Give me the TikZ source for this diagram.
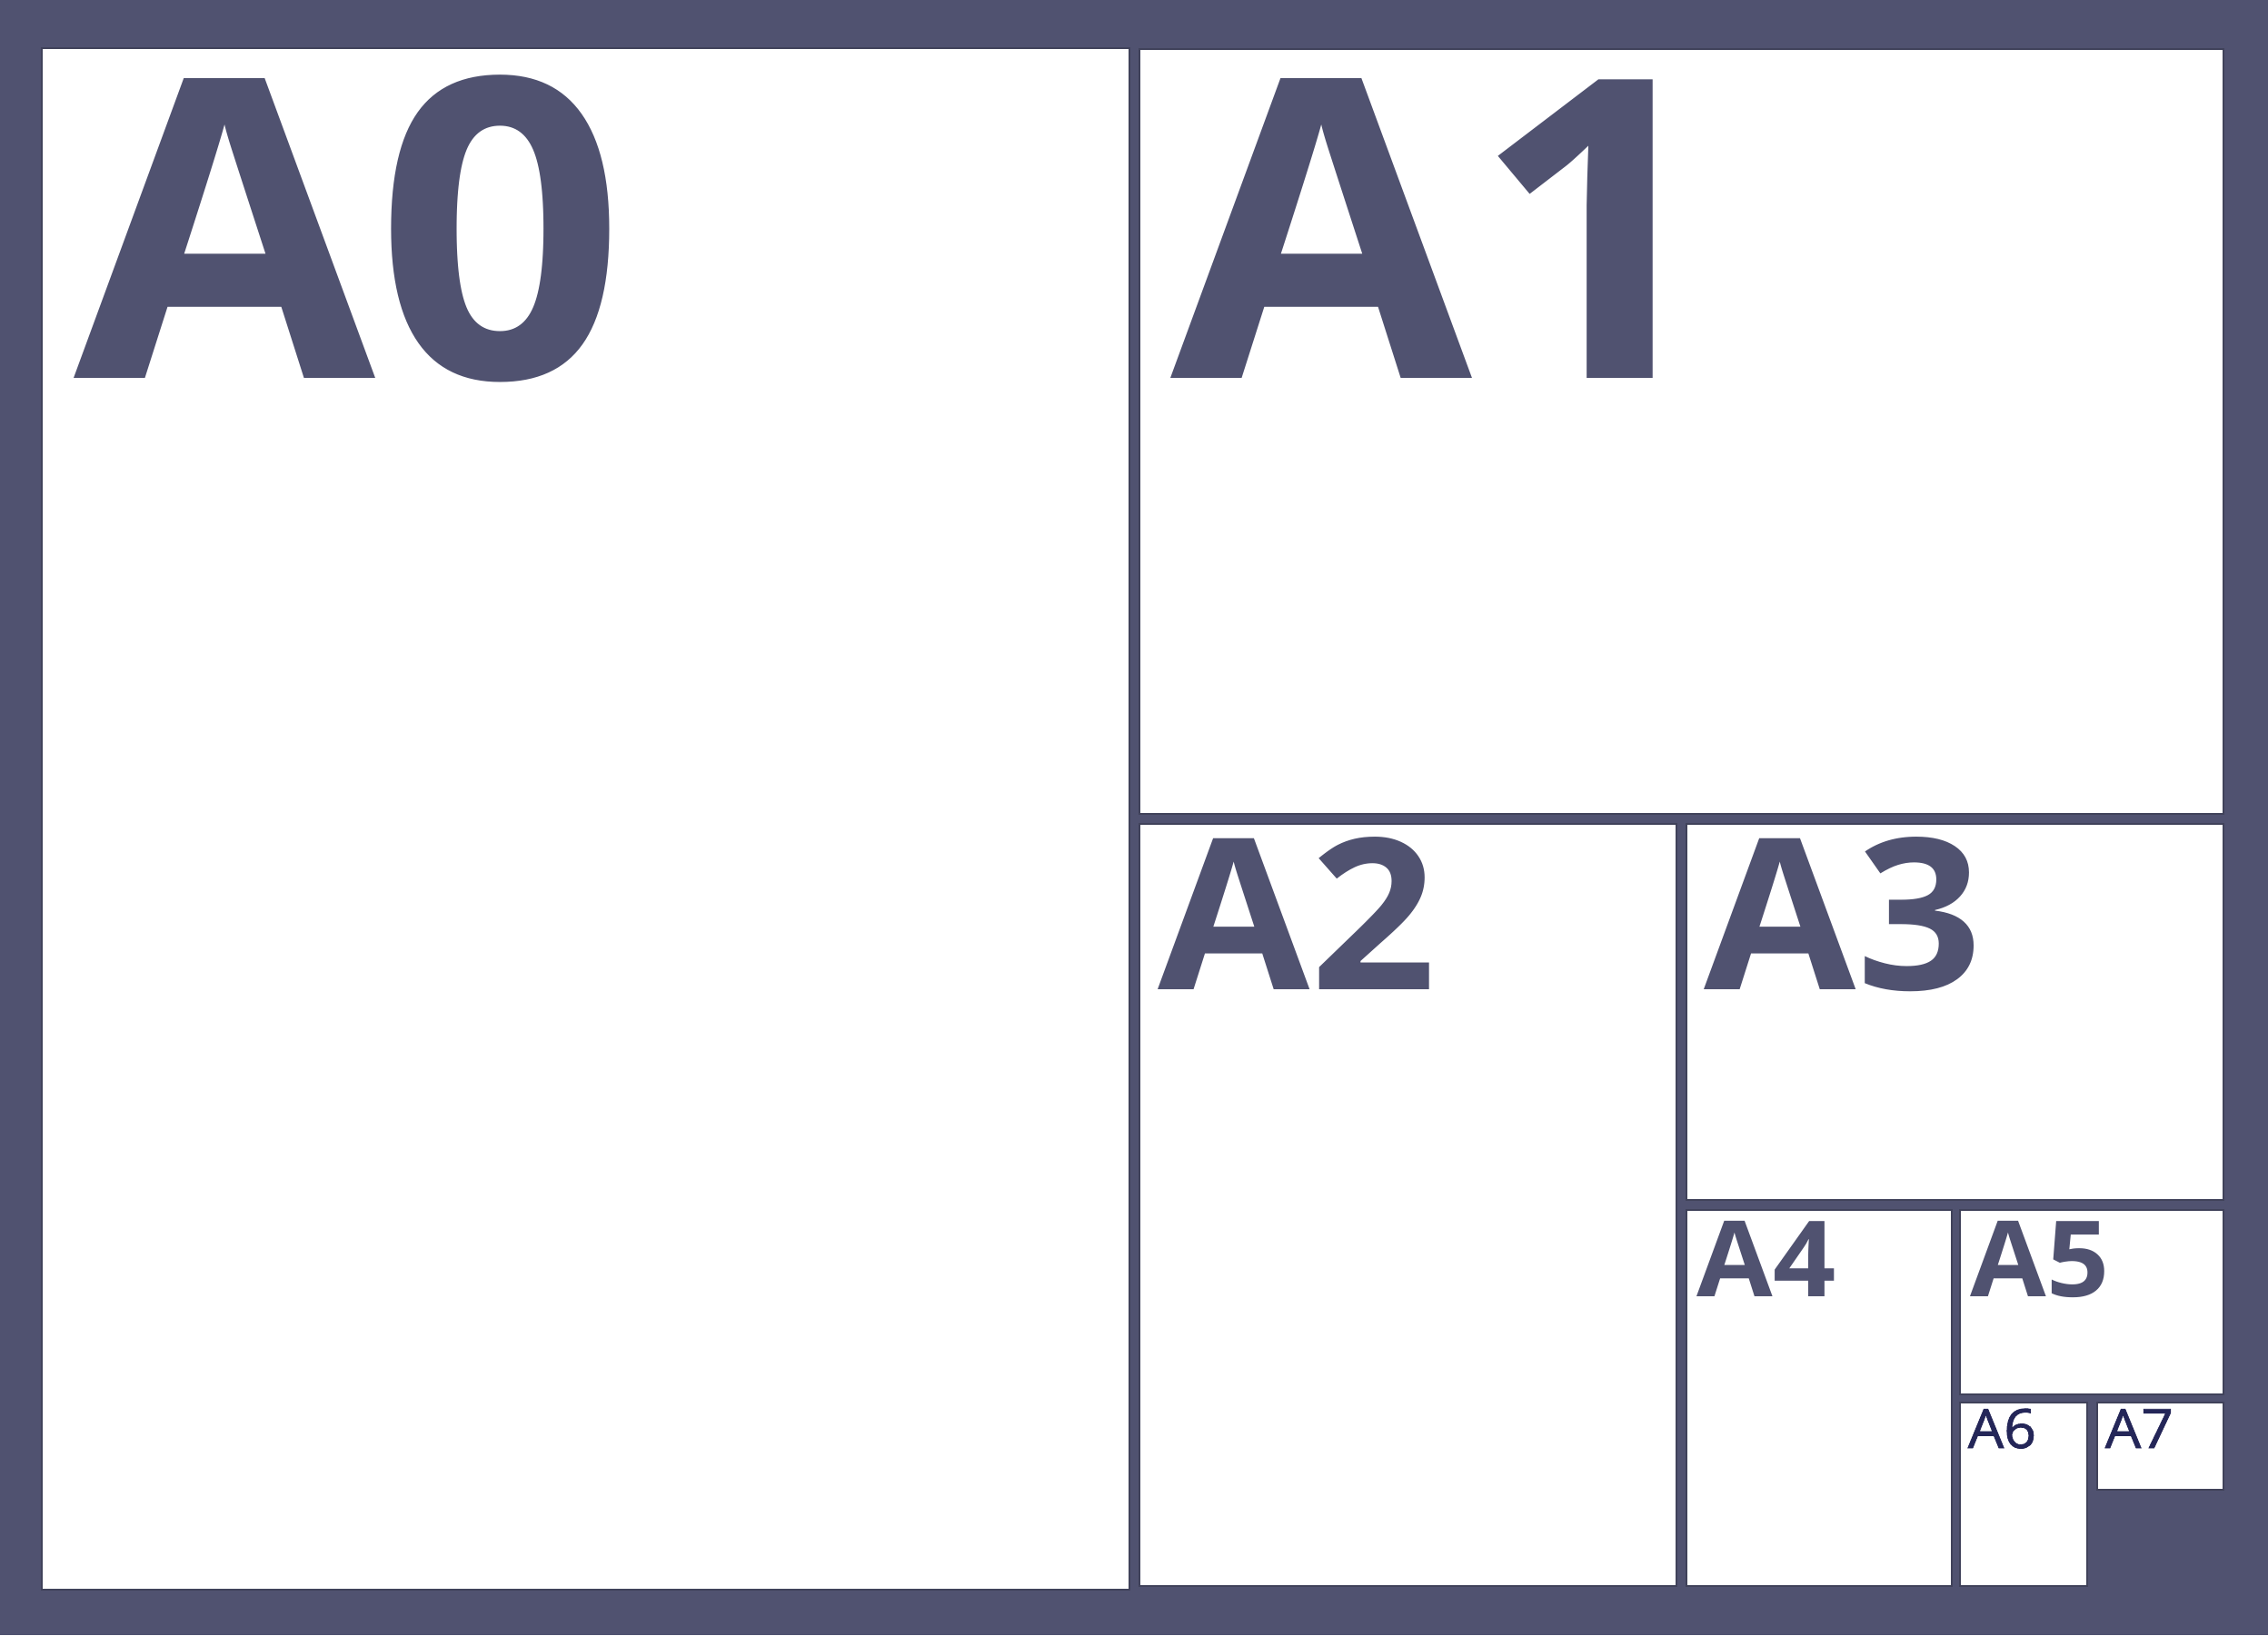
\documentclass[tikz,border=0pt]{standalone}
\usepackage{fontspec}
\setmainfont{Open Sans}
\newfontfamily\smalltagfont[FakeBold=1.2]{Open Sans}
\usetikzlibrary{positioning}
\definecolor{slate}{RGB}{80,82,112}
\definecolor{inkblue}{RGB}{36,38,88}

\begin{document}
\begin{tikzpicture}[sheet/.style={fill=white, draw=slate!80!black, line width=0.5pt},
  tag/.style={anchor=base west, inner sep=0pt, text=slate, xscale=1.045},
  tagsize/.style={font=\fontsize{#1}{#1}\selectfont\bfseries}]
 \useasboundingbox (0,0) rectangle (24.96,18);
 \fill[slate] (0,0) rectangle (24.96,18);

    % draw sheets
    \draw[sheet] (0.46,0.50) rectangle (12.43,17.47);
    \draw[sheet] (12.54,9.04) rectangle (24.47,17.46);
    \draw[sheet] (12.54,0.54) rectangle (18.45,8.93);
    \draw[sheet] (18.56,4.79) rectangle (24.47,8.93);
    \draw[sheet] (18.56,0.54) rectangle (21.48,4.68);
    \draw[sheet] (21.57,2.65) rectangle (24.47,4.68);
    \draw[sheet] (21.57,0.54) rectangle (22.97,2.56);
    \draw[sheet] (23.08,1.60) rectangle (24.47,2.56);

    % sheet names
    \node[tag, tagsize=131] (a0_label) at (0.81,13.83) {A0};
    \node[tag, tagsize=131] (a1_label) at (12.88,13.83) {A1};
    \node[tag, tagsize=66] (a2_label) at (12.74,7.11) {A2};
    \node[tag, tagsize=66] (a3_label) at (18.75,7.11) {A3};
    \node[tag, tagsize=33] (a4_label) at (18.67,3.73) {A4};
    \node[tag, tagsize=33] (a5_label) at (21.68,3.73) {A5};
    \node[tag, text=inkblue, font=\fontsize{17}{17}\smalltagfont] (a6_label) at (21.65,2.06) {A6};
    \node[tag, text=inkblue, font=\fontsize{17}{17}\smalltagfont] (a7_label) at (23.16,2.06) {A7};
\end{tikzpicture}
\end{document}
